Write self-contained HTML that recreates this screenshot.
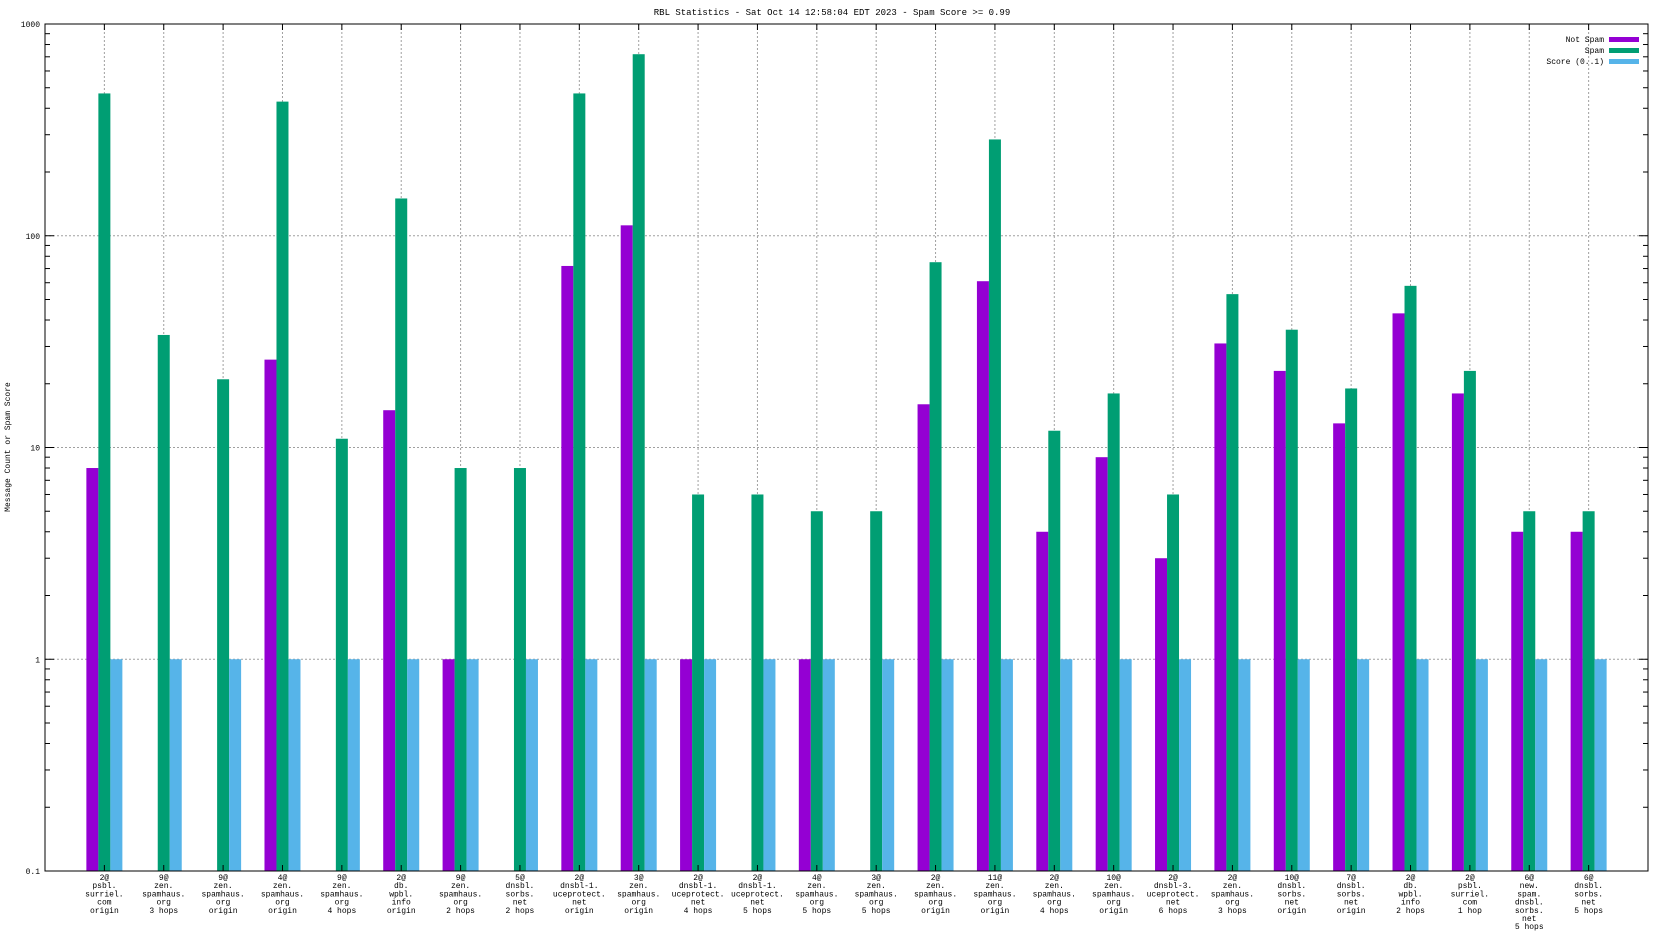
<!DOCTYPE html>
<html><head><meta charset="utf-8"><style>
html,body{margin:0;padding:0;background:#fff;}
svg{display:block;font-family:"Liberation Mono","DejaVu Sans Mono",monospace;}
</style></head><body>
<svg id="chart" width="1664" height="936" xmlns="http://www.w3.org/2000/svg">
<text x="832" y="15" font-size="9" text-anchor="middle">RBL Statistics - Sat Oct 14 12:58:04 EDT 2023 - Spam Score &gt;= 0.99</text>
<text transform="translate(10,447) rotate(-90)" font-size="8" text-anchor="middle">Message Count or Spam Score</text>
<g id="grid"></g><g id="bars"></g><g id="axes"></g><g id="xlabels"></g>
<g>
<text x="1604" y="42" font-size="8" text-anchor="end">Not Spam</text>
<rect x="1609" y="37" width="30" height="5" fill="#9400d3"/>
<text x="1604" y="53" font-size="8" text-anchor="end">Spam</text>
<rect x="1609" y="48" width="30" height="5" fill="#009e73"/>
<text x="1604" y="64" font-size="8" text-anchor="end">Score (0..1)</text>
<rect x="1609" y="59" width="30" height="5" fill="#56b4e9"/>
</g>
</svg>
<script>
const categories = [
 ["2@","psbl.","surriel.","com","origin"],
 ["9@","zen.","spamhaus.","org","3 hops"],
 ["9@","zen.","spamhaus.","org","origin"],
 ["4@","zen.","spamhaus.","org","origin"],
 ["9@","zen.","spamhaus.","org","4 hops"],
 ["2@","db.","wpbl.","info","origin"],
 ["9@","zen.","spamhaus.","org","2 hops"],
 ["5@","dnsbl.","sorbs.","net","2 hops"],
 ["2@","dnsbl-1.","uceprotect.","net","origin"],
 ["3@","zen.","spamhaus.","org","origin"],
 ["2@","dnsbl-1.","uceprotect.","net","4 hops"],
 ["2@","dnsbl-1.","uceprotect.","net","5 hops"],
 ["4@","zen.","spamhaus.","org","5 hops"],
 ["3@","zen.","spamhaus.","org","5 hops"],
 ["2@","zen.","spamhaus.","org","origin"],
 ["11@","zen.","spamhaus.","org","origin"],
 ["2@","zen.","spamhaus.","org","4 hops"],
 ["10@","zen.","spamhaus.","org","origin"],
 ["2@","dnsbl-3.","uceprotect.","net","6 hops"],
 ["2@","zen.","spamhaus.","org","3 hops"],
 ["10@","dnsbl.","sorbs.","net","origin"],
 ["7@","dnsbl.","sorbs.","net","origin"],
 ["2@","db.","wpbl.","info","2 hops"],
 ["2@","psbl.","surriel.","com","1 hop"],
 ["6@","new.","spam.","dnsbl.","sorbs.","net","5 hops"],
 ["6@","dnsbl.","sorbs.","net","5 hops"]
];
const notSpam = [8,0,0,26,0,15,1,0,72,112,1,0,1,0,16,61,4,9,3,31,23,13,43,18,4,4];
const spam = [470,34,21,430,11,150,8,8,470,720,6,6,5,5,75,285,12,18,6,53,36,19,58,23,5,5];
const score = [1,1,1,1,1,1,1,1,1,1,1,1,1,1,1,1,1,1,1,1,1,1,1,1,1,1];
const yTicks = ["0.1","1","10","100","1000"];

const NS="http://www.w3.org/2000/svg";
const L=45,R=1648,T=24,B=871;
const xMin=-1,xMax=26;
function xs(i){return L+(i-xMin)/(xMax-xMin)*(R-L);}
function ys(v){return B-(Math.log10(v)-Math.log10(0.1))/4*(B-T);}
function mk(tag,attrs,parent){const e=document.createElementNS(NS,tag);for(const k in attrs)e.setAttribute(k,attrs[k]);parent.appendChild(e);return e;}
const grid=document.getElementById('grid'),bars=document.getElementById('bars'),axes=document.getElementById('axes'),xl=document.getElementById('xlabels');
// horizontal grid + y ticks
yTicks.forEach((t,k)=>{
 const v=parseFloat(t),y=ys(v);
 if(k>0&&k<yTicks.length-1){const g=mk('line',{x1:L,x2:R,y1:y,y2:y,stroke:'#a0a0a0','stroke-dasharray':'2,2','stroke-width':1},grid);
 
 }
 const tx=mk('text',{x:40,y:y+3,'font-size':8,'text-anchor':'end'},axes);tx.textContent=t;
 
 
 if(k<yTicks.length-1){for(let m=1;m<=9;m++){const yy=ys(v*m);const len=m===1?9:5;
  mk('line',{x1:L,x2:L+len,y1:yy,y2:yy,stroke:'#000'},axes);mk('line',{x1:R,x2:R-len,y1:yy,y2:yy,stroke:'#000'},axes);}}
});
const colors=['#9400d3','#009e73','#56b4e9'];
const series=[notSpam,spam,score];const names=['not-spam','spam','score'];
const bw=12;
categories.forEach((lines,i)=>{
 const cx=xs(i);
 const g=mk('line',{x1:cx,x2:cx,y1:T,y2:B,stroke:'#a0a0a0','stroke-dasharray':'2,2'},grid);
 
 
 mk('line',{x1:cx,x2:cx,y1:B,y2:B-6,stroke:'#000'},axes);mk('line',{x1:cx,x2:cx,y1:T,y2:T+6,stroke:'#000'},axes);
 series.forEach((s,j)=>{
  const v=s[i]; if(!(v>0.1))return;
  const x=cx+(j-1)*bw-bw/2, y=ys(v);
  const r=mk('rect',{x:x,y:y,width:bw,height:B-y,fill:colors[j]},bars);
  
  
 });
 const t=mk('text',{x:cx,y:880,'font-size':8,'text-anchor':'middle'},xl);
 
 
 lines.forEach((ln,k)=>{const ts=mk('tspan',{x:cx,dy:k===0?0:8.2},t);ts.textContent=ln;});
});
const fr=mk('rect',{x:L,y:T,width:R-L,height:B-T,fill:'none',stroke:'#000','stroke-width':1},axes);


</script>
</body></html>
